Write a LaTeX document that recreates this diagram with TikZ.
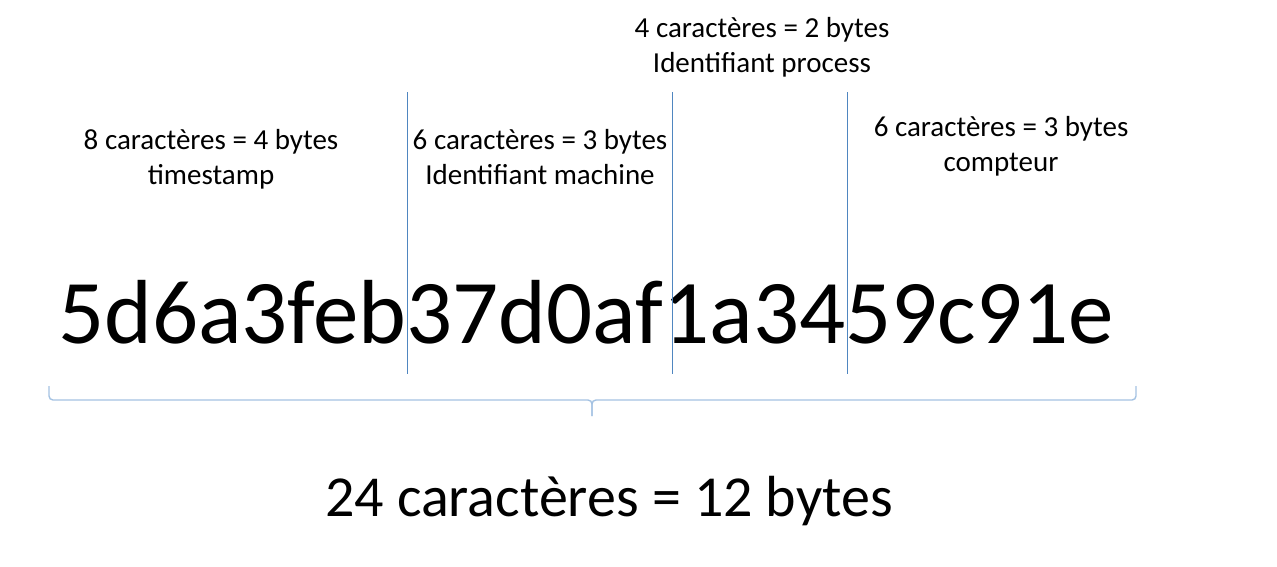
\documentclass[tikz,border=0pt]{standalone}
\usepackage{fontspec}
\setmainfont{Carlito}
\usepackage{tikz}
\usetikzlibrary{positioning,calc}
\definecolor{sepc}{HTML}{4F86C0}
\definecolor{bracec}{HTML}{A4C2E2}
\definecolor{inkc}{HTML}{000000}

\begin{document}
\begin{tikzpicture}[x=1pt, y=-1pt,
  lab/.style={align=center, inner sep=0pt, text=inkc, font=\fontsize{29}{35}\selectfont},
  big/.style={inner sep=0pt, anchor=base, text=inkc, font=\fontsize{91}{100}\selectfont},
  total/.style={inner sep=0pt, anchor=base, text=inkc, font=\fontsize{58}{66}\selectfont},
  sep/.style={draw=sepc, line width=1pt},
  brace/.style={draw=bracec, line width=1.4pt, rounded corners=4pt}]
\useasboundingbox (0,0) rectangle (1277,566);
\node[big] (oid) at (586,343) {5d6a3feb37d0af1a3459c91e};
\node[lab] (ts) at (211,159) {8 caractères = 4 bytes\\timestamp};
\node[lab] (mach) at (540,157) {6 caractères = 3 bytes\\Identifiant machine};
\node[lab] (proc) at (762,47) {4 caractères = 2 bytes\\Identifiant process};
\node[lab] (cpt) at (1001,146) {6 caractères = 3 bytes\\compteur};
\node[total] (tot) at (609,516) {24 caractères = 12 bytes};
% separators between the parts
\foreach \x/\n in {407.5/a, 672.5/b, 847.5/c} {
  \coordinate (top\n) at (\x,92);
  \coordinate (bot\n) at (\x,374);
  \draw[sep] (top\n) -- (bot\n);
}
% brace under the whole id
\coordinate (bl) at (49,386);
\coordinate (br) at (1136,386);
\coordinate (tip) at (592,416);
\draw[brace] (bl) -- (bl |- 0,400) -- (tip |- 0,400) -- (tip);
\draw[brace] (br) -- (br |- 0,400) -- (tip |- 0,400) -- (tip);
\end{tikzpicture}
\end{document}
